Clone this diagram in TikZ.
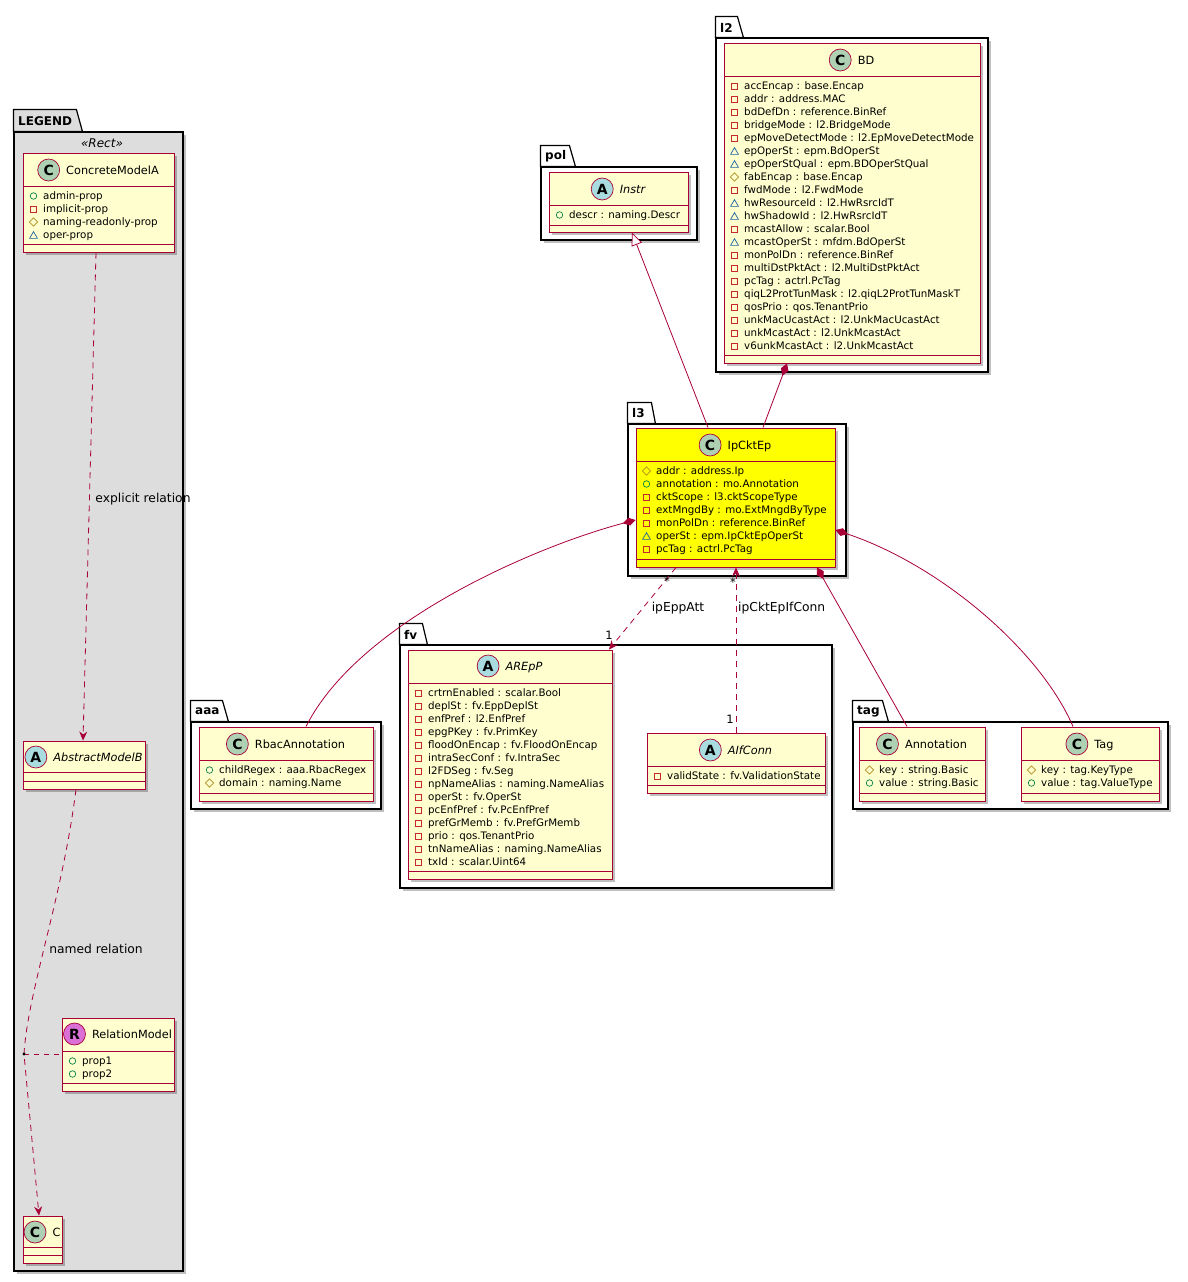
\documentclass[tikz,border=0pt]{standalone}
\usepackage{fontspec}
\setmainfont{DejaVu Sans}
\usetikzlibrary{arrows.meta, positioning, shapes.geometric, shadows, fit}
\definecolor{crim}{HTML}{A80036}
\definecolor{clsbg}{HTML}{FEFECE}
\definecolor{hilite}{HTML}{FFFF00}
\definecolor{spotC}{HTML}{ADD1B2}
\definecolor{spotA}{HTML}{A9DCDF}
\definecolor{spotR}{HTML}{DA70D6}
\definecolor{legbg}{HTML}{DDDDDD}
\definecolor{pubc}{HTML}{038048}
\definecolor{pric}{HTML}{C82930}
\definecolor{proc}{HTML}{B38D22}
\definecolor{pkgc}{HTML}{1963A0}

\begin{document}
\begin{tikzpicture}[x=1pt, y=-1pt,
  cls/.style={draw=crim, line width=1pt, fill=clsbg, inner sep=0pt,
    drop shadow={shadow xshift=3pt, shadow yshift=-3pt, opacity=0.25, fill=black}},
  pkgbox/.style={draw=black, line width=1.2pt, fill=white, inner sep=0pt,
    drop shadow={shadow xshift=3pt, shadow yshift=-3pt, opacity=0.25, fill=black}},
  pkgtab/.style={draw=black, line width=1.2pt, fill=white},
  pkgname/.style={anchor=west, inner sep=0pt, font=\bfseries\fontsize{12}{14}\selectfont},
  divl/.style={draw=crim, line width=1pt},
  spot/.style={circle, draw=crim, line width=0.7pt, minimum size=22pt, inner sep=0pt,
    font=\bfseries\fontsize{14}{14}\selectfont},
  cname/.style={inner sep=0pt, text height=8.2pt, text depth=0pt, font=\fontsize{11.3}{13}\selectfont},
  aname/.style={cname, font=\itshape\fontsize{11.3}{13}\selectfont},
  attr/.style={anchor=west, inner sep=0pt, text height=7.5pt, text depth=0pt, font=\fontsize{10.3}{12}\selectfont},
  pub/.style={circle, draw=pubc, line width=0.7pt, minimum size=6.5pt, inner sep=0pt},
  pri/.style={rectangle, draw=pric, line width=0.7pt, minimum size=6pt, inner sep=0pt},
  pro/.style={diamond, draw=proc, line width=0.7pt, minimum size=8.5pt, inner sep=0pt},
  pkg/.style={regular polygon, regular polygon sides=3, draw=pkgc, line width=0.7pt, minimum size=9pt, inner sep=0pt, yshift=-1.1pt},
  link/.style={draw=crim, line width=0.8pt},
  inh/.style={link, -{Triangle[length=13pt, width=11pt, fill=white]}},
  compo/.style={link, {Diamond[length=13pt, width=8pt]}-},
  dep/.style={link, dash pattern=on 6pt off 5pt, -{Stealth[length=9pt, width=8pt, inset=3pt]}},
  assoc/.style={link, dash pattern=on 5pt off 5pt},
  lbl/.style={inner sep=0pt, font=\fontsize{12.3}{14}\selectfont},
  mult/.style={inner sep=0pt, font=\fontsize{11.5}{13}\selectfont}]
\path[use as bounding box, fill=white] (0,0) rectangle (1188,1282);

% Packages
\node[pkgbox, fill=legbg, fit={(14,132) (183,1271)}] (legend) {};
\filldraw[pkgtab, fill=legbg] (legend.north west) -- ++(0,-22) -- ++(63,0) -- ++(6,22) -- cycle;
\node[pkgname] (legendN) at (18,121) {LEGEND};
\node[inner sep=0pt, font=\itshape\fontsize{12}{14}\selectfont] (stereo) at (102,143) {«Rect»};

\node[pkgbox, fit={(541,167) (697,240)}] (pol) {};
\filldraw[pkgtab] (pol.north west) -- ++(0,-21) -- ++(29,0) -- ++(6,21) -- cycle;
\node[pkgname] (polN) at (545,156.5) {pol};

\node[pkgbox, fit={(716,38) (988,372)}] (ltwo) {};
\filldraw[pkgtab] (ltwo.north west) -- ++(0,-21) -- ++(22,0) -- ++(6,21) -- cycle;
\node[pkgname] (ltwoN) at (720,27.5) {l2};

\node[pkgbox, fit={(628,424) (846,576)}] (lthree) {};
\filldraw[pkgtab] (lthree.north west) -- ++(0,-21) -- ++(24,0) -- ++(4,21) -- cycle;
\node[pkgname] (lthreeN) at (632,413.5) {l3};

\node[pkgbox, fit={(400,645) (832,888)}] (fv) {};
\filldraw[pkgtab] (fv.north west) -- ++(0,-21) -- ++(23,0) -- ++(5,21) -- cycle;
\node[pkgname] (fvN) at (404,634.5) {fv};

\node[pkgbox, fit={(191,722) (381,809)}] (aaa) {};
\filldraw[pkgtab] (aaa.north west) -- ++(0,-21) -- ++(32,0) -- ++(6,21) -- cycle;
\node[pkgname] (aaaN) at (195,711.5) {aaa};

\node[pkgbox, fit={(853,722) (1168,809)}] (tag) {};
\filldraw[pkgtab] (tag.north west) -- ++(0,-21) -- ++(30,0) -- ++(6,21) -- cycle;
\node[pkgname] (tagN) at (857,711.5) {tag};

% Legend classes
\node[cls, fit={(23,153) (174,252)}] (cma) {};
\draw[divl] (23,186) -- (174,186) (23,244) -- (174,244);
\node[cname] (cmaN) at (112.5,170) {ConcreteModelA};
\node[spot, fill=spotC, left=6pt of cmaN] (cmaS) {C};
\foreach \vis/\txt [count=\i from 0] in {pub/admin-prop, pri/implicit-prop,
    pro/naming-readonly-prop, pkg/oper-prop}{
  \node[\vis] (cmaV\i) at (33.5,196+13*\i) {};
  \node[attr] (cmaA\i) at (43,196+13*\i) {\txt};
}

\node[cls, fit={(23,741) (145,789)}] (amb) {};
\draw[divl] (23,772) -- (145,772) (23,781) -- (145,781);
\node[aname] (ambN) at (98,757) {AbstractModelB};
\node[spot, fill=spotA, left=6pt of ambN] (ambS) {A};

\node[cls, fit={(62,1018) (174,1091)}] (rel) {};
\draw[divl] (62,1051) -- (174,1051) (62,1083) -- (174,1083);
\node[cname] (relN) at (132,1034) {RelationModel};
\node[spot, fill=spotR, left=6pt of relN] (relS) {R};
\foreach \vis/\txt [count=\i from 0] in {pub/prop1, pub/prop2}{
  \node[\vis] (relV\i) at (72.5,1061+13*\i) {};
  \node[attr] (relA\i) at (82,1061+13*\i) {\txt};
}

\node[cls, fit={(23,1216) (62,1263)}] (cc) {};
\draw[divl] (23,1247) -- (62,1247) (23,1255) -- (62,1255);
\node[cname] (ccN) at (56.5,1232) {C};
\node[spot, fill=spotC, left=6pt of ccN] (ccS) {C};

% pol
\node[cls, fit={(549,172) (688,232)}] (instr) {};
\draw[divl] (549,205) -- (688,205) (549,225) -- (688,225);
\node[aname] (instrN) at (632.5,189) {Instr};
\node[spot, fill=spotA, left=6pt of instrN] (instrS) {A};
\node[pub] (instrV0) at (559.5,215) {};
\node[attr] (instrA0) at (569,215) {descr : naming.Descr};

% l2
\node[cls, fit={(724,43) (980,363)}] (bd) {};
\draw[divl] (724,76) -- (980,76) (724,355) -- (980,355);
\node[cname] (bdN) at (866,60) {BD};
\node[spot, fill=spotC, left=6pt of bdN] (bdS) {C};
\foreach \vis/\txt [count=\i from 0] in {pri/accEncap : base.Encap, pri/addr : address.MAC,
    pri/bdDefDn : reference.BinRef, pri/bridgeMode : l2.BridgeMode,
    pri/epMoveDetectMode : l2.EpMoveDetectMode, pkg/epOperSt : epm.BdOperSt,
    pkg/epOperStQual : epm.BDOperStQual, pro/fabEncap : base.Encap,
    pri/fwdMode : l2.FwdMode, pkg/hwResourceId : l2.HwRsrcIdT,
    pkg/hwShadowId : l2.HwRsrcIdT, pri/mcastAllow : scalar.Bool,
    pkg/mcastOperSt : mfdm.BdOperSt, pri/monPolDn : reference.BinRef,
    pri/multiDstPktAct : l2.MultiDstPktAct, pri/pcTag : actrl.PcTag,
    pri/qiqL2ProtTunMask : l2.qiqL2ProtTunMaskT, pri/qosPrio : qos.TenantPrio,
    pri/unkMacUcastAct : l2.UnkMacUcastAct, pri/unkMcastAct : l2.UnkMcastAct,
    pri/v6unkMcastAct : l2.UnkMcastAct}{
  \node[\vis] (bdV\i) at (734.5,86+13*\i) {};
  \node[attr] (bdA\i) at (744,86+13*\i) {\txt};
}

% l3
\node[cls, fill=hilite, fit={(636,428) (835,567)}] (ip) {};
\draw[divl] (636,461) -- (835,461) (636,559) -- (835,559);
\node[cname] (ipN) at (749.5,445) {IpCktEp};
\node[spot, fill=spotC, left=6pt of ipN] (ipS) {C};
\foreach \vis/\txt [count=\i from 0] in {pro/addr : address.Ip, pub/annotation : mo.Annotation,
    pri/cktScope : l3.cktScopeType, pri/extMngdBy : mo.ExtMngdByType,
    pri/monPolDn : reference.BinRef, pkg/operSt : epm.IpCktEpOperSt, pri/pcTag : actrl.PcTag}{
  \node[\vis] (ipV\i) at (646.5,471+13*\i) {};
  \node[attr] (ipA\i) at (656,471+13*\i) {\txt};
}

% fv
\node[cls, fit={(408,650) (612,879)}] (arep) {};
\draw[divl] (408,683) -- (612,683) (408,871) -- (612,871);
\node[aname] (arepN) at (524,666) {AREpP};
\node[spot, fill=spotA, left=6pt of arepN] (arepS) {A};
\foreach \vis/\txt [count=\i from 0] in {pri/crtrnEnabled : scalar.Bool, pri/deplSt : fv.EppDeplSt,
    pri/enfPref : l2.EnfPref, pri/epgPKey : fv.PrimKey, pri/floodOnEncap : fv.FloodOnEncap,
    pri/intraSecConf : fv.IntraSec, pri/l2FDSeg : fv.Seg, pri/npNameAlias : naming.NameAlias,
    pri/operSt : fv.OperSt, pri/pcEnfPref : fv.PcEnfPref, pri/prefGrMemb : fv.PrefGrMemb,
    pri/prio : qos.TenantPrio, pri/tnNameAlias : naming.NameAlias, pri/txId : scalar.Uint64}{
  \node[\vis] (arepV\i) at (418.5,693+13*\i) {};
  \node[attr] (arepA\i) at (428,693+13*\i) {\txt};
}

\node[cls, fit={(647,733) (825,793)}] (aif) {};
\draw[divl] (647,766) -- (825,766) (647,785) -- (825,785);
\node[aname] (aifN) at (750,750) {AIfConn};
\node[spot, fill=spotA, left=6pt of aifN] (aifS) {A};
\node[pri] (aifV0) at (657.5,776) {};
\node[attr] (aifA0) at (667,776) {validState : fv.ValidationState};

% aaa
\node[cls, fit={(199,727) (373,801)}] (rbac) {};
\draw[divl] (199,760) -- (373,760) (199,793) -- (373,793);
\node[cname] (rbacN) at (300,744) {RbacAnnotation};
\node[spot, fill=spotC, left=6pt of rbacN] (rbacS) {C};
\foreach \vis/\txt [count=\i from 0] in {pub/childRegex : aaa.RbacRegex, pro/domain : naming.Name}{
  \node[\vis] (rbacV\i) at (209.5,770+13*\i) {};
  \node[attr] (rbacA\i) at (219,770+13*\i) {\txt};
}

% tag
\node[cls, fit={(859,727) (985,801)}] (ann) {};
\draw[divl] (859,760) -- (985,760) (859,793) -- (985,793);
\node[cname] (annN) at (936,744) {Annotation};
\node[spot, fill=spotC, left=6pt of annN] (annS) {C};
\foreach \vis/\txt [count=\i from 0] in {pro/key : string.Basic, pub/value : string.Basic}{
  \node[\vis] (annV\i) at (869.5,770+13*\i) {};
  \node[attr] (annA\i) at (879,770+13*\i) {\txt};
}

\node[cls, fit={(1021,727) (1159,801)}] (tagc) {};
\draw[divl] (1021,760) -- (1159,760) (1021,793) -- (1159,793);
\node[cname] (tagcN) at (1104,744) {Tag};
\node[spot, fill=spotC, left=6pt of tagcN] (tagcS) {C};
\foreach \vis/\txt [count=\i from 0] in {pro/key : tag.KeyType, pub/value : tag.ValueType}{
  \node[\vis] (tagcV\i) at (1031.5,770+13*\i) {};
  \node[attr] (tagcA\i) at (1041,770+13*\i) {\txt};
}

% Relations
\draw[inh] (ip.north -| 708,0) -- (instr.south -| 632,0);
\draw[compo] (bd.south -| 787,0) -- (ip.north -| 763,0);
\draw[compo] (ip.west |- 0,520) .. controls (540,545) and (360,620) .. (rbac.north -| 306,0);
\draw[compo] (ip.south -| 817,0) -- (ann.north -| 907,0);
\draw[compo] (ip.east |- 0,530) .. controls (940,565) and (1040,650) .. (tagc.north -| 1073,0);
\draw[dep] (ip.south -| 676,0) -- (arep.north -| 609,0);
\draw[dep] (aif.north -| 736,0) -- (ip.south -| 736,0);
\node[lbl] (eppL) at (678,608) {ipEppAtt};
\node[lbl, anchor=west] (ifcL) at (738,608) {ipCktEpIfConn};
\node[mult] (eppM1) at (667,581) {*};
\node[mult] (eppM2) at (609,635) {1};
\node[mult] (ifcM1) at (733,582) {*};
\node[mult] (ifcM2) at (730,719) {1};

% Legend relations
\coordinate (jn) at (24,1054);
\draw[dep] (cma.south -| 96,0) -- (amb.north -| 83,0);
\draw[dep] (amb.south -| 76,0) .. controls (62,900) and (28,990) .. (jn) -- (cc.north -| 39,0);
\draw[assoc] (jn) -- (rel.west |- jn);
\fill (jn) circle (1.6pt);
\node[lbl] (expL) at (143,499) {explicit relation};
\node[lbl] (namL) at (96,949) {named relation};
\end{tikzpicture}
\end{document}
